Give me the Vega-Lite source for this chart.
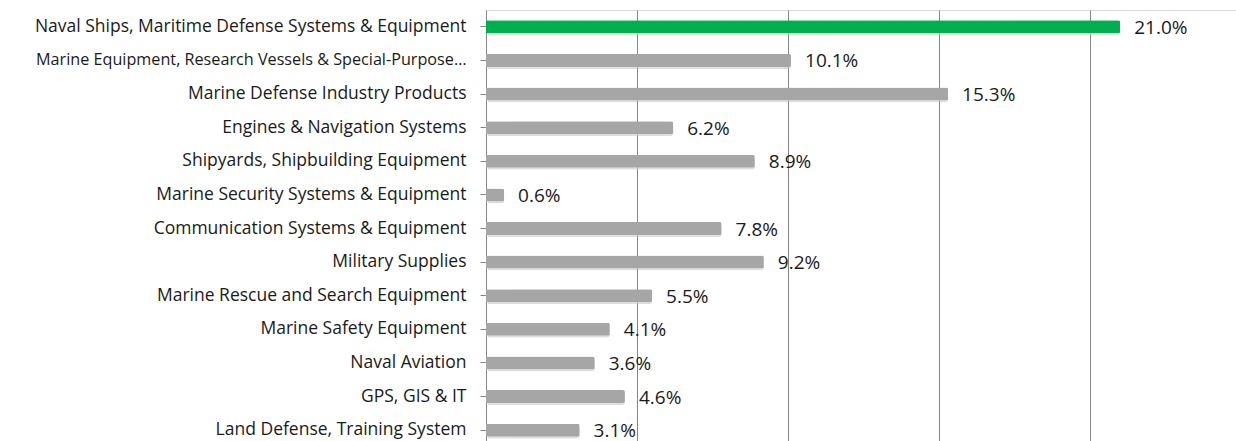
{
  "$schema": "https://vega.github.io/schema/vega-lite/v6.json",
  "width": 755,
  "height": 437,
  "autosize": {"type": "none"},
  "padding": {"left": 486, "top": 10, "right": 0, "bottom": 0},
  "background": "white",
  "config": {
    "view": {"stroke": "#d9d9d9", "strokeWidth": 1},
    "font": "Open Sans"
  },
  "data": {
    "values": [
      {"category": "Naval Ships, Maritime Defense Systems & Equipment", "share": 0.210, "highlight": "yes"},
      {"category": "Marine Equipment, Research Vessels & Special-Purpose…", "share": 0.101, "highlight": "no"},
      {"category": "Marine Defense Industry Products", "share": 0.153, "highlight": "no"},
      {"category": "Engines & Navigation Systems", "share": 0.062, "highlight": "no"},
      {"category": "Shipyards, Shipbuilding Equipment", "share": 0.089, "highlight": "no"},
      {"category": "Marine Security Systems & Equipment", "share": 0.006, "highlight": "no"},
      {"category": "Communication Systems & Equipment", "share": 0.078, "highlight": "no"},
      {"category": "Military Supplies", "share": 0.092, "highlight": "no"},
      {"category": "Marine Rescue and Search Equipment", "share": 0.055, "highlight": "no"},
      {"category": "Marine Safety Equipment", "share": 0.041, "highlight": "no"},
      {"category": "Naval Aviation", "share": 0.036, "highlight": "no"},
      {"category": "GPS, GIS & IT", "share": 0.046, "highlight": "no"},
      {"category": "Land Defense, Training System", "share": 0.031, "highlight": "no"}
    ]
  },
  "encoding": {
    "y": {
      "field": "category",
      "type": "nominal",
      "sort": null,
      "title": null,
      "axis": {
        "labelFontSize": {"condition": {"test": "indexof(datum.value, 'Marine Equipment') === 0", "value": 16.2}, "value": 17.5},
        "labelColor": "#1a1a1a",
        "labelPadding": 14,
        "labelLimit": 500,
        "tickSize": 6,
        "tickColor": "#868686",
        "domainColor": "#868686",
        "labelFont": "Open Sans"
      }
    },
    "x": {
      "field": "share",
      "type": "quantitative",
      "scale": {"domain": [0, 0.25], "nice": false},
      "title": null,
      "axis": {
        "values": [0.05, 0.1, 0.15, 0.2],
        "labels": false,
        "ticks": false,
        "domain": false,
        "grid": true,
        "gridColor": "#868686",
        "gridWidth": 1
      }
    }
  },
  "layer": [
    {
      "mark": {"type": "bar", "size": 13, "color": "#c8c8c8", "opacity": 0.6, "yOffset": 2, "xOffset": 2, "cornerRadiusEnd": 3},
      "encoding": {}
    },
    {
      "mark": {"type": "bar", "size": 13, "cornerRadiusEnd": 2},
      "encoding": {
        "color": {
          "field": "highlight",
          "type": "nominal",
          "scale": {"domain": ["yes", "no"], "range": ["#00b050", "#a6a6a6"]},
          "legend": null
        }
      }
    },
    {
      "mark": {"type": "text", "align": "left", "baseline": "middle", "dx": 14, "dy": 1, "fontSize": 19, "color": "#1a1a1a", "font": "Open Sans"},
      "encoding": {
        "text": {"field": "share", "type": "quantitative", "format": ".1%"}
      }
    }
  ]
}
